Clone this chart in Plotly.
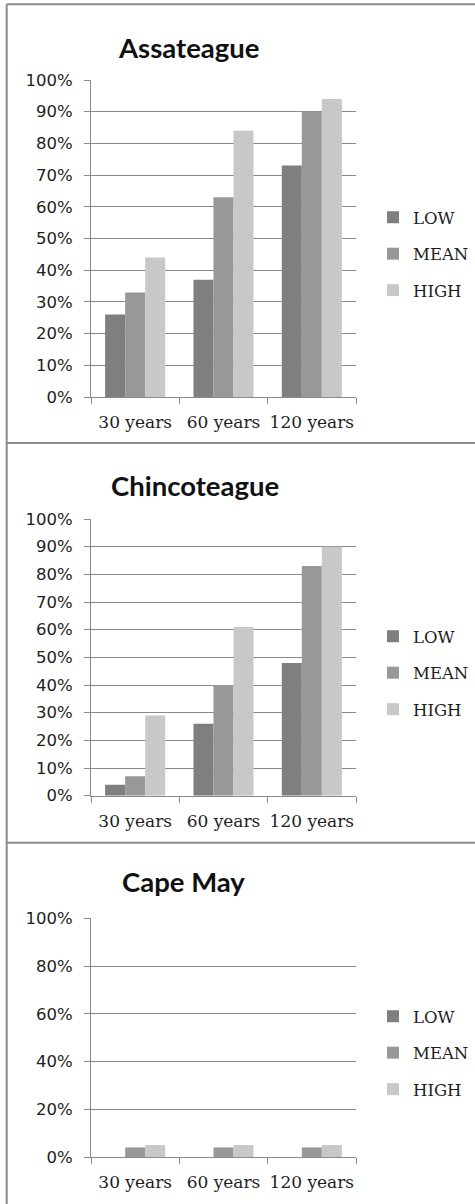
import plotly.graph_objects as go

W, H = 475, 1204

categories = ["30 years", "60 years", "120 years"]
series_names = ["LOW", "MEAN", "HIGH"]
series_colors = ["#7f7f7f", "#989898", "#c8c8c8"]

panel_titles = ["Assateague", "Chincoteague", "Cape May"]

assateague_low = [0.26, 0.37, 0.73]
assateague_mean = [0.33, 0.63, 0.90]
assateague_high = [0.44, 0.84, 0.94]

chincoteague_low = [0.04, 0.26, 0.48]
chincoteague_mean = [0.07, 0.40, 0.83]
chincoteague_high = [0.29, 0.61, 0.90]

capemay_low = [0.0, 0.0, 0.0]
capemay_mean = [0.04, 0.04, 0.04]
capemay_high = [0.05, 0.05, 0.05]

panel_data = [
    [assateague_low, assateague_mean, assateague_high],
    [chincoteague_low, chincoteague_mean, chincoteague_high],
    [capemay_low, capemay_mean, capemay_high],
]
panel_dtick = [0.1, 0.1, 0.2]

# layout (pixels)
plot_x = (91, 356)
plot_y = [(80, 397), (519, 795.7), (918.3, 1157)]
title_pos = [(189, 47), (195, 486), (183, 881)]
legend_top = [200, 619, 999]
legend_x = 373

def px_x(x):
    return x / W

def px_y(y):
    return 1 - y / H

fig = go.Figure()
GRID = "#8a8a8a"
TXT = "#1e1e1e"

for p in range(3):
    ax = "" if p == 0 else str(p + 1)
    leg = "legend" if p == 0 else f"legend{p + 1}"
    for s in range(3):
        fig.add_trace(go.Bar(
            x=categories, y=panel_data[p][s], name=series_names[s],
            marker=dict(color=series_colors[s], line=dict(width=0)),
            xaxis="x" + ax, yaxis="y" + ax, legend=leg,
            legendgroup=f"p{p}s{s}", showlegend=True,
        ))
    y0, y1 = plot_y[p]
    fig.update_layout(**{
        "xaxis" + ax: dict(
            domain=[px_x(plot_x[0]), px_x(plot_x[1])], anchor="y" + ax,
            type="category", showline=True, linecolor=GRID, linewidth=1,
            ticks="outside", tickson="boundaries", ticklen=6, tickcolor=GRID,
            tickangle=0, showgrid=False, automargin=False,
            ticklabelstandoff=10,
            tickfont=dict(family="DejaVu Serif", size=17, color=TXT),
            fixedrange=True,
        ),
        "yaxis" + ax: dict(
            domain=[px_y(y1), px_y(y0)], anchor="x" + ax,
            range=[0, 1], dtick=panel_dtick[p], tick0=0, tickformat=".0%",
            showline=True, linecolor=GRID, linewidth=1,
            ticks="outside", ticklen=6, tickcolor=GRID,
            showgrid=True, gridcolor=GRID, gridwidth=1, zeroline=False,
            automargin=False, ticklabelstandoff=8,
            tickfont=dict(family="DejaVu Sans", size=16.5, color=TXT),
            fixedrange=True,
        ),
        leg: dict(
            x=px_x(legend_x), y=px_y(legend_top[p]), xanchor="left", yanchor="top",
            bgcolor="rgba(0,0,0,0)", traceorder="grouped", tracegroupgap=12,
            font=dict(family="DejaVu Serif", size=16.5, color=TXT),
            itemclick=False, itemdoubleclick=False,
        ),
    })
    tx, ty = title_pos[p]
    fig.add_annotation(
        text=f"<b>{panel_titles[p]}</b>", xref="paper", yref="paper",
        x=px_x(tx), y=px_y(ty), xanchor="center", yanchor="middle",
        showarrow=False, font=dict(family="Lato", size=27.5, color="#111111"),
    )

# panel borders
BORDER = "#8c8c8c"
shapes = [
    dict(x0=6.7, x1=W, y0=4.3, y1=4.3),
    dict(x0=6.7, x1=6.7, y0=4.3, y1=H),
    dict(x0=6.7, x1=W, y0=443, y1=443),
    dict(x0=6.7, x1=W, y0=842.7, y1=842.7),
]
for s in shapes:
    fig.add_shape(type="line", xref="paper", yref="paper",
                  x0=px_x(s["x0"]), x1=px_x(s["x1"]),
                  y0=px_y(s["y0"]), y1=px_y(s["y1"]),
                  line=dict(color=BORDER, width=2))

fig.update_layout(
    width=W, height=H, margin=dict(l=0, r=0, t=0, b=0, pad=0),
    paper_bgcolor="white", plot_bgcolor="white",
    barmode="group", bargap=0.32, bargroupgap=0,
    showlegend=True,
)

fig.write_html("out.html", config={"displayModeBar": False},
               post_script="document.body.style.margin='0px';document.body.style.overflow='hidden';")
